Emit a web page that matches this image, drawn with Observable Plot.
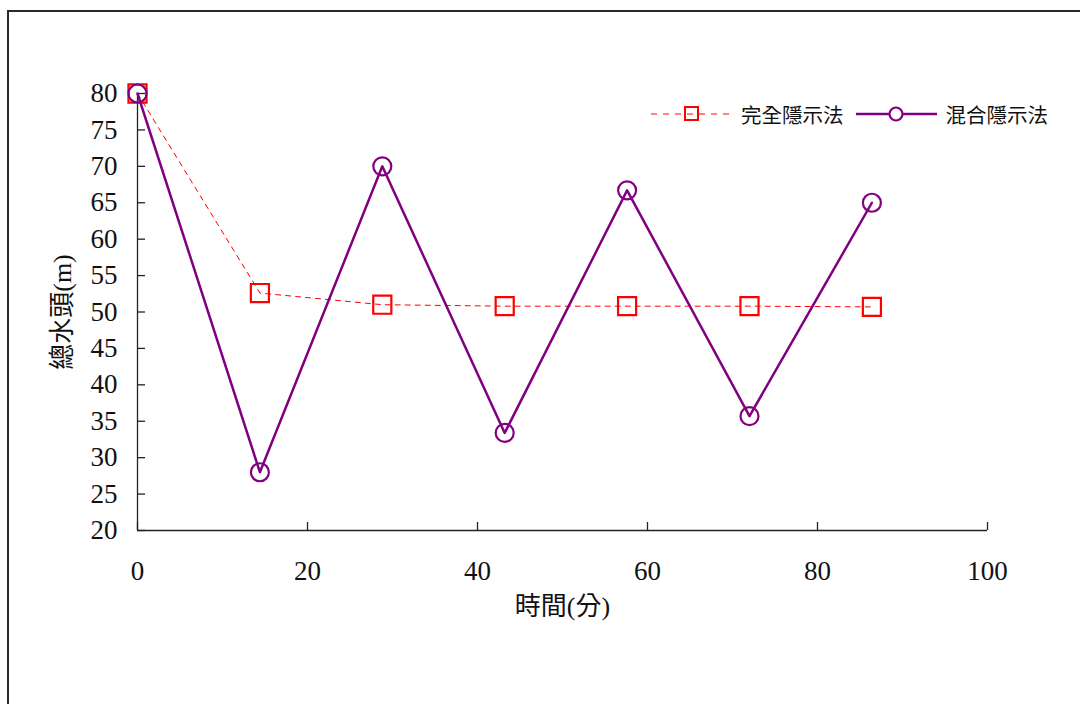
<!DOCTYPE html>
<html>
<head>
<meta charset="utf-8">
<script src="https://cdn.jsdelivr.net/npm/d3@7"></script>
<script src="https://cdn.jsdelivr.net/npm/@observablehq/plot@0.6"></script>
<style>
  html, body { margin: 0; padding: 0; background: #fff; overflow: hidden; width: 1080px; height: 704px; }
  #wrap { position: relative; width: 1080px; height: 704px; }
  #frame { position: absolute; left: 7px; top: 10px; width: 1200px; height: 800px; border: 2px solid #2a2a2a; }
  #chart { position: absolute; left: 0; top: 0; }
  #legend { position: absolute; left: 651px; top: 99px; display: flex; align-items: center;
            font-family: 'Liberation Serif', 'Noto Sans CJK TC', serif; font-size: 20.5px; color: #111; }
  #legend .item { display: flex; align-items: center; }
  #legend svg { display: block; }
</style>
</head>
<body>
<div id="wrap">
  <div id="frame"></div>
  <div id="chart"></div>
  <div id="legend"></div>
</div>
<script>
// Time axis (minutes) and total head (m) for the two schemes
const times = [0, 14.4, 28.8, 43.2, 57.6, 72, 86.4];
const fullImplicit = [80, 52.6, 51.0, 50.8, 50.8, 50.8, 50.7];
const mixedImplicit = [80, 28.0, 70.0, 33.4, 66.7, 35.7, 65.0];
const seriesNames = ["完全隱示法", "混合隱示法"];
const xTicks = [0, 20, 40, 60, 80, 100];
const yTicks = [20, 25, 30, 35, 40, 45, 50, 55, 60, 65, 70, 75, 80];
const xTitle = "時間(分)";
const yTitle = "總水頭(m)";

const red = "#ff0000";
const purple = "#800080";
const axisColor = "#222";
const serif = "'Liberation Serif', 'Noto Sans CJK TC', serif";

const fullData = times.map((t, i) => ({t, h: fullImplicit[i]}));
const mixedData = times.map((t, i) => ({t, h: mixedImplicit[i]}));

const chart = Plot.plot({
  width: 1080,
  height: 704,
  marginLeft: 137,
  marginRight: 93,
  marginTop: 93,
  marginBottom: 174,
  style: {
    fontFamily: serif,
    fontSize: "26px",
    color: "#111",
    background: "transparent",
    overflow: "visible"
  },
  x: {domain: [0, 100], axis: null},
  y: {domain: [20, 80], axis: null},
  marks: [
    // axis lines
    Plot.ruleX([0], {y1: 20, y2: 80, stroke: axisColor, strokeWidth: 1.3}),
    Plot.ruleY([20], {x1: 0, x2: 100, stroke: axisColor, strokeWidth: 1.3}),
    // inward tick marks
    Plot.ruleY(yTicks, {y: d => d, x1: 0, x2: 0, insetRight: -8, stroke: axisColor, strokeWidth: 1.3}),
    Plot.ruleX(xTicks, {x: d => d, y1: 20, y2: 20, insetBottom: 8, stroke: axisColor, strokeWidth: 1.3}),
    // tick labels
    Plot.text(yTicks, {y: d => d, text: d => String(d), frameAnchor: "left", dx: -20, textAnchor: "end",
                       lineAnchor: "middle", fontSize: 27, fill: "#111"}),
    Plot.text(xTicks, {x: d => d, text: d => String(d), frameAnchor: "bottom", dy: 41, textAnchor: "middle",
                       lineAnchor: "middle", fontSize: 27, fill: "#111"}),
    // axis titles
    Plot.text([xTitle], {text: d => d, frameAnchor: "bottom", dy: 76, fontSize: 26, textAnchor: "middle", lineAnchor: "middle"}),
    Plot.text([yTitle], {text: d => d, frameAnchor: "left", dx: -75, rotate: -90, fontSize: 26, textAnchor: "middle", lineAnchor: "middle"}),
    // 完全隱示法: dashed red line with hollow squares
    Plot.line(fullData, {x: "t", y: "h", stroke: red, strokeWidth: 1, strokeDasharray: "5,5"}),
    Plot.dot(fullData, {x: "t", y: "h", symbol: "square", r: 10.2, stroke: red, strokeWidth: 2.2, fill: "none"}),
    // 混合隱示法: solid purple line with hollow circles
    Plot.line(mixedData, {x: "t", y: "h", stroke: purple, strokeWidth: 2.5}),
    Plot.dot(mixedData, {x: "t", y: "h", symbol: "circle", r: 9, stroke: purple, strokeWidth: 2.2, fill: "none"})
  ]
});
document.getElementById("chart").appendChild(chart);

// Legend: swatch sample followed by the series name
const legend = document.getElementById("legend");
function swatch(kind) {
  const ns = "http://www.w3.org/2000/svg";
  const svg = document.createElementNS(ns, "svg");
  svg.setAttribute("width", 82);
  svg.setAttribute("height", 24);
  const line = document.createElementNS(ns, "line");
  line.setAttribute("x1", 0); line.setAttribute("x2", 81);
  line.setAttribute("y1", 12); line.setAttribute("y2", 12);
  if (kind === 0) {
    line.setAttribute("stroke", red);
    line.setAttribute("stroke-width", 1);
    line.setAttribute("stroke-dasharray", "6,6");
    svg.appendChild(line);
    const r = document.createElementNS(ns, "rect");
    r.setAttribute("x", 34); r.setAttribute("y", 5);
    r.setAttribute("width", 13); r.setAttribute("height", 13);
    r.setAttribute("fill", "none"); r.setAttribute("stroke", red); r.setAttribute("stroke-width", 2);
    svg.appendChild(r);
  } else {
    line.setAttribute("stroke", purple);
    line.setAttribute("stroke-width", 2.5);
    svg.appendChild(line);
    const c = document.createElementNS(ns, "circle");
    c.setAttribute("cx", 40); c.setAttribute("cy", 12); c.setAttribute("r", 6.5);
    c.setAttribute("fill", "#fff"); c.setAttribute("stroke", purple); c.setAttribute("stroke-width", 2.2);
    svg.appendChild(c);
  }
  return svg;
}
seriesNames.forEach((name, i) => {
  const item = document.createElement("div");
  item.className = "item";
  item.appendChild(swatch(i));
  const label = document.createElement("span");
  label.textContent = name;
  label.style.marginLeft = "8px";
  label.style.marginRight = i === 0 ? "12px" : "0";
  item.appendChild(label);
  legend.appendChild(item);
});
</script>
</body>
</html>
